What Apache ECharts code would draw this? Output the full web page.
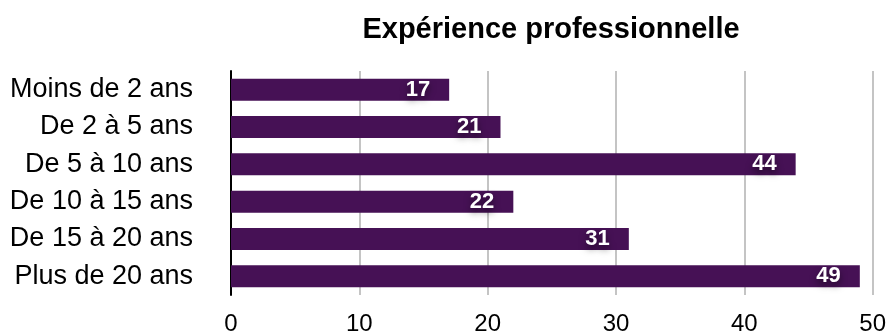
<!DOCTYPE html>
<html>
<head>
<meta charset="utf-8">
<script src="https://cdn.jsdelivr.net/npm/echarts@6/dist/echarts.min.js"></script>
<style>
  html, body { margin: 0; padding: 0; background: #fff; }
  #chart { width: 889px; height: 336px; }
</style>
</head>
<body>
<div id="chart"></div>
<script>
// Years of professional experience, counts per bracket
const categories = [
  'Moins de 2 ans',
  'De 2 à 5 ans',
  'De 5 à 10 ans',
  'De 10 à 15 ans',
  'De 15 à 20 ans',
  'Plus de 20 ans'
];
const counts = [17, 21, 44, 22, 31, 49];
const xTicks = [0, 10, 20, 30, 40, 50];

const FONT = '"Liberation Sans", Arial, Helvetica, sans-serif';
const chart = echarts.init(document.getElementById('chart'), null, { renderer: 'canvas' });

chart.setOption({
  animation: false,
  title: {
    text: 'Expérience professionnelle',
    left: 546,
    textAlign: 'center',
    top: 10,
    textStyle: { fontFamily: FONT, fontWeight: 'bold', fontSize: 29, color: '#000' }
  },
  grid: { left: 231, right: 16, top: 71, bottom: 35, containLabel: false },
  xAxis: {
    type: 'value',
    min: xTicks[0],
    max: xTicks[xTicks.length - 1],
    interval: 10,
    axisLine: { show: false },
    axisTick: { show: false },
    axisLabel: {
      fontFamily: FONT, fontSize: 24, color: '#000', margin: 17,
      formatter: v => (xTicks.includes(v) ? String(v) : '')
    },
    splitLine: { show: true, lineStyle: { color: '#c4c4c4', width: 2 } }
  },
  yAxis: {
    type: 'category',
    data: categories,
    inverse: true,
    axisLine: { show: true, lineStyle: { color: '#000', width: 2 } },
    axisTick: { show: false },
    axisLabel: { fontFamily: FONT, fontSize: 27, color: '#000', margin: 38 }
  },
  series: [{
    type: 'bar',
    data: counts,
    barWidth: 22,
    itemStyle: { color: '#461155' },
    label: {
      show: true,
      position: 'insideRight',
      distance: 19,
      fontFamily: FONT,
      fontWeight: 'bold',
      fontSize: 22,
      color: '#fff',
      textShadowColor: 'rgba(0,0,0,0.55)',
      textShadowBlur: 7,
      textShadowOffsetY: 4
    }
  }]
});
</script>
</body>
</html>
